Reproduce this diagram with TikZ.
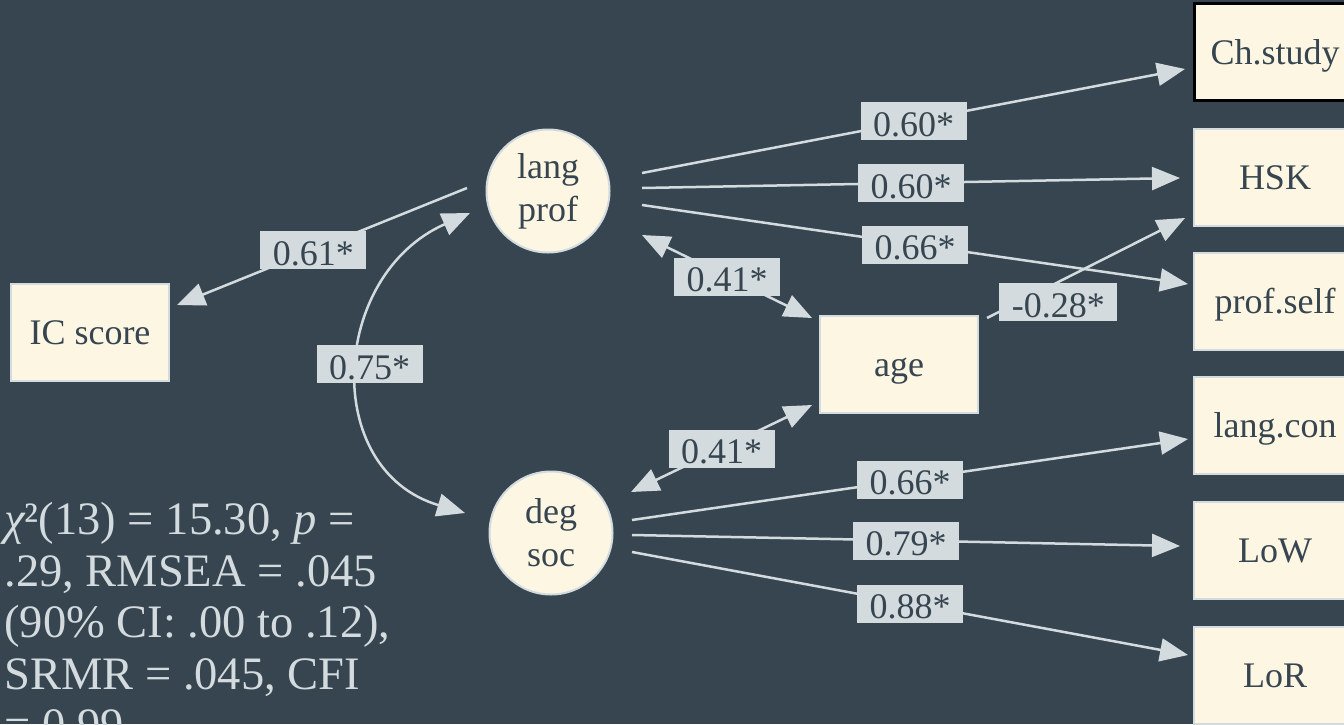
\documentclass[tikz,border=0pt]{standalone}
\usepackage{fontspec}
\setmainfont{Liberation Serif}
\usetikzlibrary{arrows.meta}

\definecolor{slate}{HTML}{36454F}
\definecolor{cream}{HTML}{FDF6E3}
\definecolor{mist}{HTML}{D3DBDF}

\begin{document}
\begin{tikzpicture}[x=0.5pt, y=-0.5pt,
  obs/.style={draw=mist, line width=1pt, fill=cream, text=slate,
    minimum width=79pt, minimum height=48.5pt, text height=12pt, text depth=0pt,
    font=\fontsize{18}{21.5}\selectfont},
  ind/.style={obs, minimum width=81pt},
  lat/.style={circle, draw=mist, line width=1pt, fill=cream, text=slate,
    minimum size=61.5pt, inner sep=0pt, align=center,
    font=\fontsize{18}{21.5}\selectfont},
  load/.style={draw=mist, line width=1.25pt, -{Triangle[length=14pt,width=11.5pt]}},
  cov/.style={load, {Triangle[length=14pt,width=11.5pt]}-{Triangle[length=14pt,width=11.5pt]}},
  coef/.style={fill=mist, text=slate, inner xsep=6.25pt, inner ysep=0pt,
    text height=17pt, text depth=2pt, font=\fontsize{18}{21.5}\selectfont}]
  \useasboundingbox (0,0) rectangle (1344,724);
  \fill[slate] (0,0) rectangle (1344,724);
  \clip (0,0) rectangle (1344,724);

  % latent factors and observed scores
  \node[obs] (ic) at (90,332) {IC score};
  \node[lat] (lp) at (548,191) {lang\\prof};
  \node[lat] (ds) at (551,533) {deg\\soc};
  \node[obs] (age) at (899,364) {age};
  \node[ind, draw=black, line width=1.5pt] (cs) at (1275,52) {Ch.study};
  \node[ind] (hsk) at (1275,177) {HSK};
  \node[ind] (ps) at (1275,301) {prof.self};
  \node[ind] (lc) at (1275,425) {lang.con};
  \node[ind] (low) at (1275,550) {LoW};
  \node[ind] (lor) at (1275,675) {LoR};

  % regression and covariances
  \draw[load] ([shift={(-81,-3)}]lp.center) -- ([shift={(87,-27)}]ic.center) node[coef, pos=0.53] {0.61*};
  \draw[cov] ([shift={(-78,22)}]lp.center) .. controls +(-140,62) and +(-145,-43) .. ([shift={(-86,-20)}]ds.center)
    node[coef, pos=0.5, xshift=4.5pt, yshift=3pt] {0.75*};
  \draw[cov] ([shift={(94,44)}]lp.center) -- ([shift={(-87,-46)}]age.center) node[coef, midway] {0.41*};
  \draw[cov] ([shift={(80,-41)}]ds.center) -- ([shift={(-87,41)}]age.center) node[coef, midway] {0.41*};
  \draw[load] ([shift={(88,-46)}]age.center) -- ([shift={(-90,41)}]hsk.center) node[coef, pos=0.36, yshift=-10pt] {-0.28*};

  % loadings
  \draw[load] ([shift={(94,-18)}]lp.center) -- ([shift={(-90,17)}]cs.center) node[coef, midway] {0.60*};
  \draw[load] ([shift={(94,-3)}]lp.center) -- ([shift={(-95,1)}]hsk.center) node[coef, midway] {0.60*};
  \draw[load] ([shift={(94,14)}]lp.center) -- ([shift={(-87,-17)}]ps.center) node[coef, midway] {0.66*};
  \draw[load] ([shift={(81,-13)}]ds.center) -- ([shift={(-87,14)}]lc.center) node[coef, midway] {0.66*};
  \draw[load] ([shift={(81,2)}]ds.center) -- ([shift={(-95,-4)}]low.center) node[coef, midway] {0.79*};
  \draw[load] ([shift={(81,19)}]ds.center) -- ([shift={(-87,-20)}]lor.center) node[coef, midway] {0.88*};

  % fit indices
  \node[anchor=north west, inner sep=0pt, align=left, text=mist,
    font=\fontsize{23.25}{25.75}\selectfont] (fit) at (4,502)
    {{\itshape χ}²(13) = 15.30, {\itshape p} =\\
     .29, RMSEA = .045\\
     (90\% CI: .00 to .12),\\
     SRMR = .045, CFI\\
     = 0.99};
\end{tikzpicture}
\end{document}
